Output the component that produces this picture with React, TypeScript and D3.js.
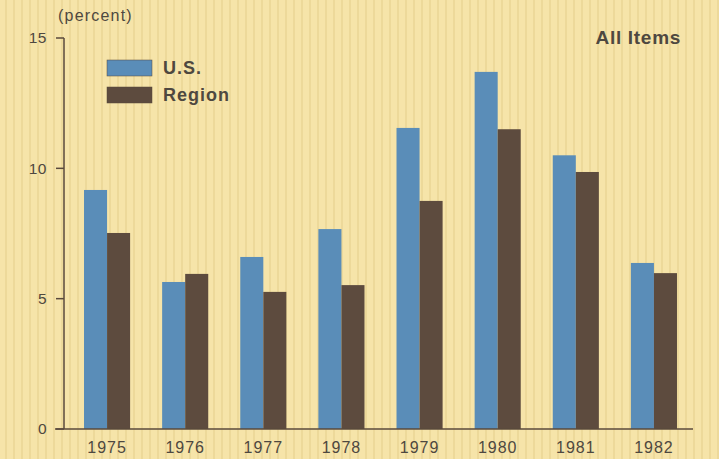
import React, { useEffect, useRef } from "react";
import * as d3 from "d3";

const years = ["1975", "1976", "1977", "1978", "1979", "1980", "1981", "1982"];
const usValues = [9.17, 5.64, 6.6, 7.67, 11.55, 13.7, 10.5, 6.37];
const regionValues = [7.52, 5.95, 5.26, 5.52, 8.75, 11.5, 9.86, 5.98];
const yTicks = [0, 5, 10, 15];
const seriesNames = ["U.S.", "Region"];

const W = 719;
const H = 459;
const BLUE = "#5a8db8";
const BROWN = "#5d4b3e";
const TEXT = "#4e4840";
const AXIS = "#5a4a3c";
const FONT = "'Liberation Sans', Arial, Helvetica, sans-serif";

export default function App() {
  const ref = useRef<SVGSVGElement>(null);

  useEffect(() => {
    const svg = d3.select(ref.current);
    svg.selectAll("*").remove();

    const defs = svg.append("defs");
    const pat = defs
      .append("pattern")
      .attr("id", "stripes")
      .attr("width", 8)
      .attr("height", 8)
      .attr("patternUnits", "userSpaceOnUse");
    pat.append("rect").attr("width", 8).attr("height", 8).attr("fill", "#f6e4a9");
    pat.append("rect").attr("x", 5).attr("width", 2).attr("height", 8).attr("fill", "#ead595").attr("opacity", 0.7);

    svg.append("rect").attr("width", W).attr("height", H).attr("fill", "url(#stripes)");

    const y = d3.scaleLinear().domain([0, 15]).range([429, 38]);
    const x = d3.scaleBand().domain(years).range([68, 693]).paddingInner(0.41).paddingOuter(0.205);
    const x1 = d3.scaleBand().domain(seriesNames).range([0, x.bandwidth()]);
    const colors = d3.scaleOrdinal<string, string>().domain(seriesNames).range([BLUE, BROWN]);

    const g = svg.append("g");
    const groups = g
      .selectAll("g.grp")
      .data(years)
      .enter()
      .append("g")
      .attr("transform", (d) => `translate(${x(d)},0)`);

    groups
      .selectAll("rect")
      .data((d, i) => [
        { s: "U.S.", v: usValues[i] },
        { s: "Region", v: regionValues[i] },
      ])
      .enter()
      .append("rect")
      .attr("x", (d) => x1(d.s)!)
      .attr("width", x1.bandwidth())
      .attr("y", (d) => y(d.v))
      .attr("height", (d) => y(0) - y(d.v))
      .attr("fill", (d) => colors(d.s));

    // axes
    g.append("line").attr("x1", 64).attr("x2", 64).attr("y1", y(15)).attr("y2", y(0)).attr("stroke", AXIS).attr("stroke-width", 1.5);
    g.append("line").attr("x1", 55).attr("x2", 693).attr("y1", y(0)).attr("y2", y(0)).attr("stroke", AXIS).attr("stroke-width", 1.5);

    yTicks.forEach((t) => {
      g.append("line").attr("x1", 56).attr("x2", 64).attr("y1", y(t)).attr("y2", y(t)).attr("stroke", AXIS).attr("stroke-width", 1.5);
      g.append("text")
        .attr("x", 47)
        .attr("y", y(t))
        .attr("dy", "0.35em")
        .attr("text-anchor", "end")
        .attr("font-family", FONT)
        .attr("font-size", 15.5)
        .attr("letter-spacing", 0.5)
        .attr("fill", TEXT)
        .text(String(t));
    });

    years.forEach((yr) => {
      g.append("text")
        .attr("x", x(yr)! + x.bandwidth() / 2)
        .attr("y", 453)
        .attr("text-anchor", "middle")
        .attr("font-family", FONT)
        .attr("font-size", 16)
        .attr("letter-spacing", 1)
        .attr("fill", TEXT)
        .text(yr);
    });

    g.append("text")
      .attr("x", 58)
      .attr("y", 21)
      .attr("font-family", FONT)
      .attr("font-size", 16)
      .attr("letter-spacing", 1.2)
      .attr("fill", TEXT)
      .text("(percent)");

    g.append("text")
      .attr("x", 681)
      .attr("y", 44)
      .attr("text-anchor", "end")
      .attr("font-family", FONT)
      .attr("font-size", 19)
      .attr("font-weight", "bold")
      .attr("letter-spacing", 0.7)
      .attr("fill", TEXT)
      .text("All Items");

    // legend
    seriesNames.forEach((s, i) => {
      const ly = 60 + i * 27;
      g.append("rect").attr("x", 107).attr("y", ly).attr("width", 45).attr("height", 16).attr("fill", colors(s)).attr("stroke", AXIS).attr("stroke-width", 0.5);
      g.append("text")
        .attr("x", 163)
        .attr("y", ly + 14)
        .attr("font-family", FONT)
        .attr("font-size", 18)
        .attr("font-weight", "bold")
        .attr("letter-spacing", 1)
        .attr("fill", TEXT)
        .text(s);
    });
  }, []);

  return (
    <svg
      ref={ref}
      width={W}
      height={H}
      style={{ position: "absolute", left: 0, top: 0, display: "block" }}
    />
  );
}
